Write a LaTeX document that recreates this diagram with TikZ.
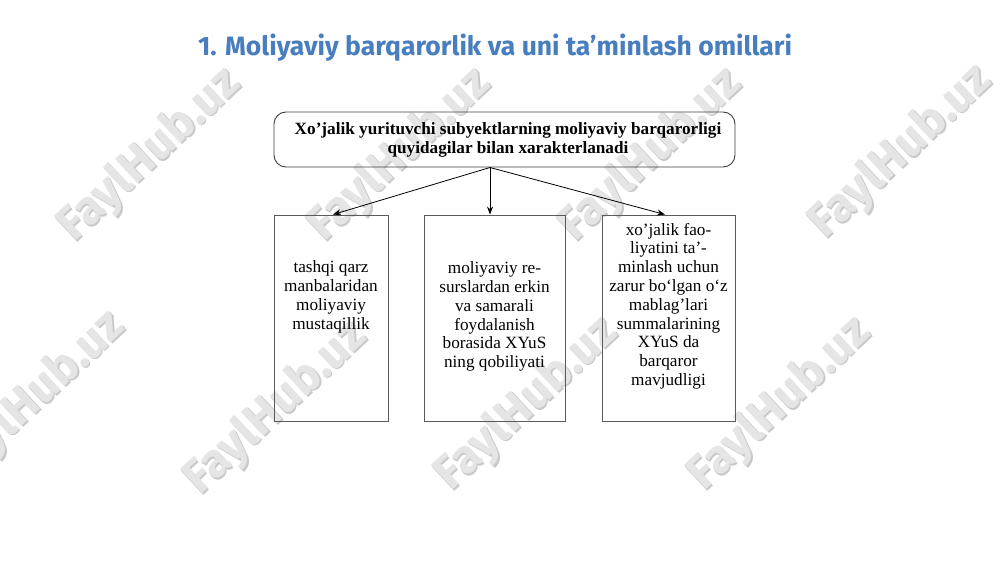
\documentclass[tikz,border=0pt]{standalone}
\usepackage{fontspec}
\setmainfont{Liberation Serif}
\newfontfamily\titlefont{Fira Sans}
\newfontfamily\wmfont{Fira Sans}
\usetikzlibrary{arrows.meta}
\definecolor{titleblue}{RGB}{72,125,190}
\definecolor{boxline}{RGB}{90,90,90}
\tikzset{
  wm/.style={font=\wmfont\bfseries\fontsize{35.5}{36}\selectfont, text=gray!20, rotate=43, inner sep=0pt},
  wmshadow/.style={font=\wmfont\bfseries\fontsize{35.5}{36}\selectfont, text=gray!42, rotate=43, inner sep=0pt},
  topbox/.style={draw=black!75, line width=0.7pt, rounded corners=9pt, minimum width=345.75pt, minimum height=41.25pt, inner sep=0pt},
  lowbox/.style={draw=boxline, line width=0.7pt, minimum height=154.5pt, inner sep=0pt},
  boxtext/.style={align=center, font=\fontsize{12.9}{14.1}\selectfont, inner sep=0pt},
  toptext/.style={align=center, font=\bfseries\fontsize{12.9}{14.2}\selectfont, inner sep=0pt},
  conn/.style={-{Stealth[length=6pt,width=4.5pt]}, line width=0.6pt, black}
}
\begin{document}
\begin{tikzpicture}[x=0.75pt,y=-0.75pt]
\useasboundingbox (0,0) rectangle (1000,562);
\fill[white] (0,0) rectangle (1000,562);
% watermarks
\foreach \i/\cx/\cy in {1/150/155, 2/400/155, 3/651/155, 4/901/152, 5/34/398, 6/276/408, 7/527/404, 8/780/404}{
  \node[wmshadow] (ws\i) at (\cx+1.3,\cy+1.3) {FaylHub.uz};
  \node[wm] (w\i) at (\cx,\cy) {FaylHub.uz};
}
% title
\node[font=\titlefont\bfseries\fontsize{19.9}{21}\selectfont, text=titleblue, inner sep=0pt] (title) at (495,48) {1. Moliyaviy barqarorlik va uni ta’minlash omillari};
% top box
\node[topbox] (top) at (504.5,139.5) {};
\node[toptext] (toptxt) at (508,140) {Xo’jalik yurituvchi subyektlarning moliyaviy barqarorligi\\quyidagilar bilan xarakterlanadi};
% lower boxes
\node[lowbox, minimum width=85.5pt] (b1) at (331,318) {};
\node[lowbox, minimum width=105.75pt] (b2) at (494.5,318) {};
\node[lowbox, minimum width=99.75pt] (b3) at (668.5,318) {};
\node[boxtext] (t1) at (331,297) {tashqi qarz\\manbalaridan\\moliyaviy\\mustaqillik};
\node[boxtext] (t2) at (494.5,316.5) {moliyaviy re-\\surslardan erkin\\va samarali\\foydalanish\\borasida XYuS\\ning qobiliyati};
\node[boxtext] (t3) at (668.5,306) {xo’jalik fao-\\liyatini ta’-\\minlash uchun\\zarur bo‘lgan o‘z\\mablag’lari\\summalarining\\XYuS da\\barqaror\\mavjudligi};
% connectors
\coordinate (src) at (490,167.5);
\draw[conn] (src) -- (b1.north -| 333,0);
\draw[conn] (src) -- (src |- b2.north);
\draw[conn] (src) -- (b3.north -| 665,0);
\end{tikzpicture}
\end{document}
